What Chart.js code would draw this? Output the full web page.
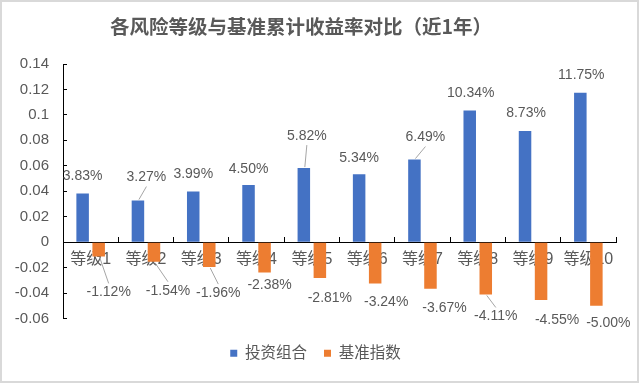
<!DOCTYPE html>
<html>
<head>
<meta charset="utf-8">
<script src="https://cdn.jsdelivr.net/npm/chart.js@4/dist/chart.umd.min.js"></script>
<style>
  html, body { margin: 0; padding: 0; background: #ffffff; }
  #wrap { width: 640px; height: 385px; position: relative; }
</style>
</head>
<body>
<div id="wrap"><canvas id="c" width="640" height="385"></canvas></div>
<script>
// ---- data ----
const chartTitle = '各风险等级与基准累计收益率对比（近1年）';
const categories = ['等级1', '等级2', '等级3', '等级4', '等级5', '等级6', '等级7', '等级8', '等级9', '等级10'];
const seriesNames = ['投资组合', '基准指数'];
const portfolio = [0.0383, 0.0327, 0.0399, 0.0450, 0.0582, 0.0534, 0.0649, 0.1034, 0.0873, 0.1175];
const benchmark = [-0.0112, -0.0154, -0.0196, -0.0238, -0.0281, -0.0324, -0.0367, -0.0411, -0.0455, -0.0500];
const yMin = -0.06, yMax = 0.14, yStep = 0.02;

// ---- label placement (pixel nudges from bar end) ----
const portfolioNudge = [[0,-17],[8.5,-23],[0,-17],[0,-16],[3,-32],[0,-16],[11,-22],[1,-17],[1,-18],[1,-17]];
const portfolioLeader = [false,true,false,false,true,false,true,false,false,false];
const benchmarkNudge = [[10,36],[14,29],[9,26],[5,13],[10,20],[11,19],[14,19],[10,22],[16,20],[12,17]];
const benchmarkLeader = [true,true,true,false,false,false,false,true,false,false];

const FONT = "'Liberation Sans', 'Noto Sans CJK SC', sans-serif";
const GREY = '#595959';

const bgPlugin = {
  id: 'bg',
  beforeInit(chart) {
    // empty layout box that keeps a gap between the plot and the legend
    const spacer = {
      position: 'bottom', weight: 500, fullSize: false, options: {},
      left: 0, top: 0, right: 0, bottom: 0, width: 0, height: 0,
      isHorizontal() { return true; },
      update(maxWidth) { this.width = maxWidth; this.height = 10; },
      getPadding() { return { left: 0, right: 0, top: 0, bottom: 0 }; },
      draw() {}
    };
    Chart.layouts.addBox(chart, spacer);
  },
  beforeDraw(chart) {
    const ctx = chart.ctx;
    ctx.save();
    ctx.fillStyle = '#ffffff';
    ctx.fillRect(0, 0, chart.width, chart.height);
    ctx.strokeStyle = '#d9d9d9';
    ctx.lineWidth = 2;
    ctx.strokeRect(1, 1, chart.width - 3, chart.height - 4);
    ctx.restore();
  },
  afterDraw(chart) {
    const ctx = chart.ctx;
    ctx.save();
    ctx.fillStyle = GREY;
    ctx.font = "bold 19.5px 'Noto Sans CJK SC', sans-serif";
    ctx.textAlign = 'center';
    ctx.textBaseline = 'middle';
    ctx.fillText(chartTitle, 301, 27);
    ctx.restore();
  }
};

const labelPlugin = {
  id: 'valLabels',
  afterDatasetsDraw(chart) {
    const ctx = chart.ctx;
    ctx.save();
    ctx.font = '14px ' + FONT;
    ctx.fillStyle = GREY;
    ctx.textAlign = 'center';
    ctx.textBaseline = 'middle';
    const cfg = [[portfolioNudge, portfolioLeader], [benchmarkNudge, benchmarkLeader]];
    chart.data.datasets.forEach((ds, di) => {
      const meta = chart.getDatasetMeta(di);
      meta.data.forEach((el, i) => {
        const v = ds.data[i];
        const [dx, dy] = cfg[di][0][i];
        const lx = el.x + dx, ly = el.y + dy;
        if (cfg[di][1][i]) {
          const dir = v >= 0 ? 1 : -1;
          ctx.beginPath();
          ctx.strokeStyle = '#a6a6a6';
          ctx.lineWidth = 1;
          ctx.moveTo(el.x + 1, el.y - dir * 1);
          ctx.lineTo(lx, ly + dir * 9);
          ctx.stroke();
        }
        ctx.fillText((v * 100).toFixed(2) + '%', lx, ly);
      });
    });
    ctx.restore();
  }
};

new Chart(document.getElementById('c'), {
  type: 'bar',
  data: {
    labels: categories,
    datasets: [
      { label: seriesNames[0], data: portfolio, backgroundColor: '#4472C4', borderWidth: 0,
        categoryPercentage: 0.58, barPercentage: 0.78 },
      { label: seriesNames[1], data: benchmark, backgroundColor: '#ED7D31', borderWidth: 0,
        categoryPercentage: 0.58, barPercentage: 0.78 }
    ]
  },
  options: {
    responsive: false,
    animation: false,
    devicePixelRatio: 1,
    layout: { padding: { top: 64, left: 15, right: 24, bottom: 14 } },
    plugins: {
      title: { display: false },
      tooltip: { enabled: false },
      legend: {
        display: true,
        position: 'bottom',
        labels: {
          color: GREY,
          font: { size: 15.5, family: FONT },
          boxWidth: 7,
          boxHeight: 7,
          padding: 17
        }
      }
    },
    scales: {
      x: {
        position: { y: 0 },
        z: 1,
        grid: {
          display: true,
          offset: true,
          drawOnChartArea: false,
          drawTicks: true,
          tickLength: -6,
          color: '#000000',
          lineWidth: 1
        },
        border: { display: true, color: '#000000', width: 1 },
        ticks: {
          color: GREY,
          font: { size: 16, family: FONT },
          padding: 14,
          maxRotation: 0,
          autoSkip: false
        }
      },
      y: {
        min: yMin,
        max: yMax,
        afterFit(scale) { scale.width = 48; },
        grid: {
          display: true,
          drawOnChartArea: false,
          drawTicks: true,
          tickLength: -4,
          color: '#000000'
        },
        border: { display: true, color: '#000000', width: 1 },
        ticks: {
          stepSize: yStep,
          color: GREY,
          font: { size: 15, family: FONT },
          padding: 18,
          callback: (v) => String(Number(v.toFixed(2)))
        }
      }
    }
  },
  plugins: [bgPlugin, labelPlugin]
});
</script>
</body>
</html>
